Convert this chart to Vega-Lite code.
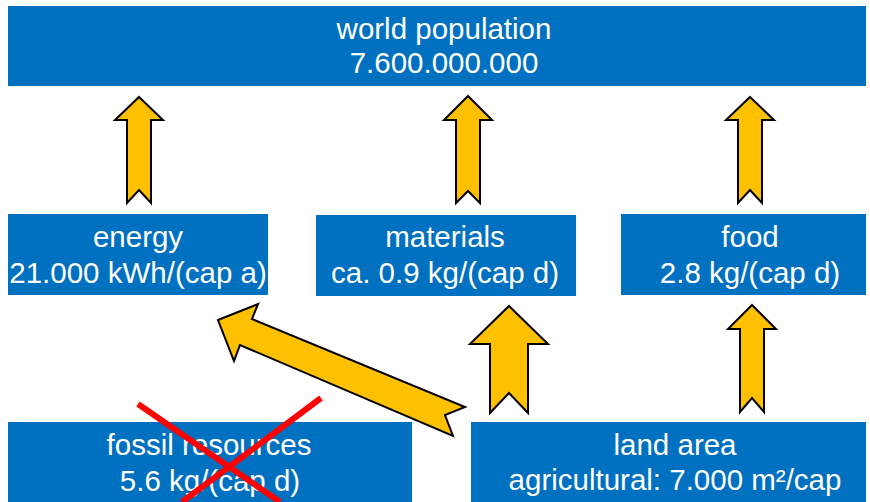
{
  "$schema": "https://vega.github.io/schema/vega-lite/v6.json",
  "width": 870,
  "height": 502,
  "autosize": {"type": "none"},
  "padding": 0,
  "background": "white",
  "config": {"view": {"stroke": null}},
  "datasets": {
    "boxes": [
      {"name": "world population", "x1": 8, "x2": 866, "y1": 6, "y2": 86},
      {"name": "energy", "x1": 8, "x2": 268, "y1": 214, "y2": 295},
      {"name": "materials", "x1": 316, "x2": 576, "y1": 215, "y2": 296},
      {"name": "food", "x1": 621, "x2": 866, "y1": 214, "y2": 295},
      {"name": "fossil resources", "x1": 8, "x2": 412, "y1": 422, "y2": 502},
      {"name": "land area", "x1": 471, "x2": 866, "y1": 422, "y2": 502}
    ],
    "arrows": [
      {"a": "energy-pop", "i": 0, "x": 139, "y": 97},
      {"a": "energy-pop", "i": 1, "x": 163, "y": 120},
      {"a": "energy-pop", "i": 2, "x": 151, "y": 120},
      {"a": "energy-pop", "i": 3, "x": 151, "y": 203},
      {"a": "energy-pop", "i": 4, "x": 139, "y": 190},
      {"a": "energy-pop", "i": 5, "x": 127, "y": 203},
      {"a": "energy-pop", "i": 6, "x": 127, "y": 120},
      {"a": "energy-pop", "i": 7, "x": 115, "y": 120},
      {"a": "materials-pop", "i": 0, "x": 468, "y": 96},
      {"a": "materials-pop", "i": 1, "x": 492, "y": 120},
      {"a": "materials-pop", "i": 2, "x": 480, "y": 120},
      {"a": "materials-pop", "i": 3, "x": 480, "y": 203},
      {"a": "materials-pop", "i": 4, "x": 468, "y": 191},
      {"a": "materials-pop", "i": 5, "x": 456, "y": 203},
      {"a": "materials-pop", "i": 6, "x": 456, "y": 120},
      {"a": "materials-pop", "i": 7, "x": 444, "y": 120},
      {"a": "food-pop", "i": 0, "x": 750, "y": 97},
      {"a": "food-pop", "i": 1, "x": 774, "y": 120},
      {"a": "food-pop", "i": 2, "x": 762, "y": 120},
      {"a": "food-pop", "i": 3, "x": 762, "y": 203},
      {"a": "food-pop", "i": 4, "x": 750, "y": 190},
      {"a": "food-pop", "i": 5, "x": 738, "y": 203},
      {"a": "food-pop", "i": 6, "x": 738, "y": 120},
      {"a": "food-pop", "i": 7, "x": 726, "y": 120},
      {"a": "land-materials", "i": 0, "x": 509, "y": 306},
      {"a": "land-materials", "i": 1, "x": 548, "y": 344},
      {"a": "land-materials", "i": 2, "x": 528, "y": 344},
      {"a": "land-materials", "i": 3, "x": 528, "y": 413},
      {"a": "land-materials", "i": 4, "x": 509, "y": 393},
      {"a": "land-materials", "i": 5, "x": 490, "y": 413},
      {"a": "land-materials", "i": 6, "x": 490, "y": 344},
      {"a": "land-materials", "i": 7, "x": 470, "y": 344},
      {"a": "land-food", "i": 0, "x": 752, "y": 305},
      {"a": "land-food", "i": 1, "x": 776, "y": 329},
      {"a": "land-food", "i": 2, "x": 764, "y": 329},
      {"a": "land-food", "i": 3, "x": 764, "y": 412},
      {"a": "land-food", "i": 4, "x": 752, "y": 398},
      {"a": "land-food", "i": 5, "x": 740, "y": 412},
      {"a": "land-food", "i": 6, "x": 740, "y": 329},
      {"a": "land-food", "i": 7, "x": 728, "y": 329},
      {"a": "land-energy", "i": 0, "x": 218, "y": 320},
      {"a": "land-energy", "i": 1, "x": 258, "y": 304},
      {"a": "land-energy", "i": 2, "x": 252, "y": 319},
      {"a": "land-energy", "i": 3, "x": 465, "y": 407},
      {"a": "land-energy", "i": 4, "x": 445, "y": 415},
      {"a": "land-energy", "i": 5, "x": 453, "y": 436},
      {"a": "land-energy", "i": 6, "x": 240, "y": 345},
      {"a": "land-energy", "i": 7, "x": 234, "y": 361}
    ],
    "labels": [
      {"t": "world population", "x": 444, "y": 39},
      {"t": "7.600.000.000", "x": 444, "y": 73},
      {"t": "energy", "x": 138, "y": 247},
      {"t": "21.000 kWh/(cap a)", "x": 138, "y": 283},
      {"t": "materials", "x": 445, "y": 247},
      {"t": "ca. 0.9 kg/(cap d)", "x": 445, "y": 283},
      {"t": "food", "x": 750, "y": 247},
      {"t": "2.8 kg/(cap d)", "x": 750, "y": 283},
      {"t": "fossil resources", "x": 209, "y": 455},
      {"t": "5.6 kg/(cap d)", "x": 210, "y": 491},
      {"t": "land area", "x": 675, "y": 455},
      {"t": "agricultural: 7.000 m²/cap", "x": 675, "y": 490}
    ],
    "cross": [
      {"x1": 138, "y1": 404, "x2": 280, "y2": 502},
      {"x1": 321, "y1": 398, "x2": 182, "y2": 502}
    ]
  },
  "layer": [
    {
      "data": {"name": "boxes"},
      "mark": {"type": "rect", "color": "#0070C0"},
      "encoding": {
        "x": {"field": "x1", "type": "quantitative", "scale": {"domain": [0, 870], "nice": false, "zero": false}, "axis": null},
        "x2": {"field": "x2"},
        "y": {"field": "y1", "type": "quantitative", "scale": {"domain": [0, 502], "reverse": true, "nice": false, "zero": false}, "axis": null},
        "y2": {"field": "y2"}
      }
    },
    {
      "data": {"name": "arrows"},
      "mark": {"type": "line", "interpolate": "linear-closed", "fill": "#FFC000", "stroke": "#000000", "strokeWidth": 2, "strokeJoin": "miter"},
      "encoding": {
        "x": {"field": "x", "type": "quantitative", "axis": null},
        "y": {"field": "y", "type": "quantitative", "axis": null},
        "detail": {"field": "a", "type": "nominal"},
        "order": {"field": "i", "type": "quantitative"}
      }
    },
    {
      "data": {"name": "labels"},
      "mark": {"type": "text", "font": "Liberation Sans", "fontSize": 29.5, "color": "#FFFFFF", "align": "center", "baseline": "alphabetic"},
      "encoding": {
        "x": {"field": "x", "type": "quantitative", "axis": null},
        "y": {"field": "y", "type": "quantitative", "axis": null},
        "text": {"field": "t", "type": "nominal"}
      }
    },
    {
      "data": {"name": "cross"},
      "mark": {"type": "rule", "color": "#FF0000", "strokeWidth": 6, "strokeCap": "butt"},
      "encoding": {
        "x": {"field": "x1", "type": "quantitative", "axis": null},
        "y": {"field": "y1", "type": "quantitative", "axis": null},
        "x2": {"field": "x2"},
        "y2": {"field": "y2"}
      }
    }
  ]
}
